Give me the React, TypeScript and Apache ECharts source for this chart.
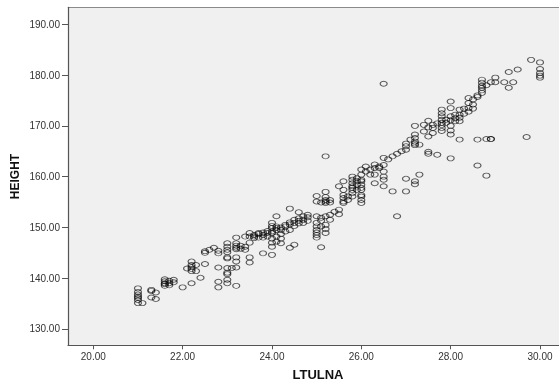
import React, { useEffect, useRef } from "react";
import * as echarts from "echarts";

// LTULNA values (x), each with the HEIGHT values (y) observed at that LTULNA
const ltulnaValues = [
  21.0, 21.1, 21.3, 21.4, 21.6, 21.7, 21.8, 22.0, 22.1, 22.2, 22.3, 22.4, 22.5, 22.6, 22.7, 22.8,
  23.0, 23.1, 23.2, 23.3, 23.4, 23.5, 23.6, 23.7, 23.8, 23.9, 24.0, 24.1, 24.2, 24.3, 24.4, 24.5,
  24.6, 24.7, 24.8, 25.0, 25.1, 25.2, 25.3, 25.4, 25.5, 25.6, 25.7, 25.8, 25.9, 26.0, 26.1, 26.2,
  26.3, 26.4, 26.5, 26.6, 26.7, 26.8, 26.9, 27.0, 27.1, 27.2, 27.3, 27.4, 27.5, 27.6, 27.7, 27.8,
  27.9, 28.0, 28.1, 28.2, 28.3, 28.4, 28.5, 28.6, 28.7, 28.8, 28.9, 29.0, 29.2, 29.3, 29.4, 29.5,
  29.7, 29.8, 30.0,
];

const heightValues: number[][] = [
  [138.0, 137.3, 136.8, 136.4, 136.1, 135.7, 135.1],
  [135.1],
  [137.7, 137.5, 136.2],
  [137.2, 135.9],
  [139.8, 139.4, 139.0, 138.8, 138.5],
  [139.5, 139.0, 138.6],
  [139.7, 139.2],
  [138.2],
  [141.9],
  [143.3, 142.6, 142.2, 141.8, 141.4, 139.0],
  [142.6, 141.4],
  [140.1],
  [145.3, 145.0, 142.8],
  [145.6],
  [146.0],
  [145.4, 144.9, 142.1, 139.3, 138.2],
  [146.9, 146.2, 145.6, 145.1, 144.1, 143.9, 142.0, 141.1, 140.8, 139.7, 139.0],
  [142.0],
  [148.0, 146.9, 146.4, 146.0, 145.7, 144.1, 143.3, 142.1, 138.5],
  [146.4, 145.8],
  [148.2, 146.2, 145.6],
  [148.9, 148.2, 147.0, 144.1, 143.1],
  [148.5, 148.2, 147.9],
  [148.9, 148.7, 148.0],
  [149.0, 148.5, 148.0, 144.9],
  [149.3, 148.9, 148.2],
  [150.9, 150.3, 149.9, 149.2, 148.9, 147.8, 147.0, 146.2, 144.6],
  [152.2, 150.2, 149.9, 149.5, 148.2, 147.2],
  [150.0, 149.5, 148.7, 147.8, 146.9],
  [150.5, 150.2, 149.2],
  [153.7, 151.0, 150.6, 149.5, 146.0],
  [151.5, 150.9, 150.3, 146.6],
  [153.0, 151.8, 151.3, 150.8],
  [152.2, 151.5, 150.9],
  [152.5, 152.0, 151.3],
  [156.2, 155.1, 152.2, 150.9, 150.2, 149.5, 149.0, 148.5, 148.0],
  [154.9, 151.9, 151.3, 150.2, 146.1],
  [164.0, 157.0, 156.0, 155.4, 155.1, 154.8, 152.2, 150.5, 149.7, 148.9],
  [155.4, 154.9, 152.5, 151.5],
  [153.1],
  [158.1, 153.5, 152.6],
  [159.1, 157.4, 156.4, 155.8, 155.1, 154.8],
  [156.1, 155.4],
  [160.0, 159.4, 158.7, 158.1, 157.8, 157.4, 156.8, 156.1],
  [159.7, 159.1, 158.4, 157.4],
  [161.4, 160.4, 159.4, 159.1, 158.4, 157.8, 157.4, 156.4, 156.1, 155.4, 154.8],
  [162.0, 161.0],
  [161.4, 160.4],
  [162.4, 161.7, 160.4, 158.7],
  [162.0, 161.7],
  [178.3, 163.7, 162.3, 161.0, 160.0, 159.4, 158.1],
  [163.4],
  [164.0, 157.1],
  [164.5, 152.2],
  [165.0],
  [166.5, 166.0, 165.3, 159.6, 157.1],
  [167.3],
  [170.0, 168.3, 167.6, 166.9, 166.5, 166.2, 159.1, 158.5],
  [166.3, 160.4],
  [170.2, 168.9],
  [171.0, 169.7, 167.9, 164.9, 164.5],
  [170.2, 169.6, 168.6],
  [170.5, 164.3],
  [173.2, 172.5, 171.9, 171.2, 170.6, 170.2, 169.6, 169.0],
  [171.2, 170.6],
  [174.8, 173.5, 171.9, 171.1, 170.0, 169.1, 168.3, 163.6],
  [172.2, 171.5, 170.9],
  [173.2, 172.2, 171.6, 170.9, 167.3],
  [173.4, 172.4],
  [175.5, 174.5, 173.5, 172.8],
  [175.2, 174.2, 173.4],
  [176.0, 175.7, 167.3, 162.2],
  [179.1, 178.5, 177.9, 177.5, 177.0, 176.5],
  [178.0, 167.4, 160.2],
  [178.6, 167.4, 167.4],
  [179.5, 178.6],
  [178.6],
  [180.6, 177.5],
  [178.6],
  [181.1],
  [167.8],
  [183.0],
  [182.5, 181.2, 180.4, 179.9, 179.5],
];

const xTickValues = [20, 22, 24, 26, 28, 30];
const yTickValues = [130, 140, 150, 160, 170, 180, 190];

const xTitle = "LTULNA";
const yTitle = "HEIGHT";

export default function App() {
  const ref = useRef<HTMLDivElement>(null);

  useEffect(() => {
    if (!ref.current) return;
    const chart = echarts.init(ref.current, undefined, { renderer: "svg" });

    const points: number[][] = [];
    ltulnaValues.forEach((x, i) => {
      heightValues[i].forEach((y) => points.push([x, y]));
    });

    const labelFont = {
      fontFamily: "'Liberation Sans', Arial, sans-serif",
      fontSize: 10,
      color: "#333",
    };

    chart.setOption({
      animation: false,
      grid: {
        left: 68,
        top: 7.3,
        width: 491,
        height: 338,
        show: true,
        backgroundColor: "#f0f0f0",
        borderWidth: 0,
      },
      xAxis: {
        type: "value",
        min: 19.434,
        max: 30.425,
        splitLine: { show: false },
        axisLine: { show: true, onZero: false, lineStyle: { color: "#555", width: 1.2 } },
        axisTick: {
          show: true,
          length: 4,
          customValues: xTickValues,
          lineStyle: { color: "#555" },
        },
        axisLabel: {
          ...labelFont,
          margin: 6,
          customValues: xTickValues,
          formatter: (v: number) => v.toFixed(2),
        },
      },
      yAxis: {
        type: "value",
        min: 126.79,
        max: 193.35,
        splitLine: { show: false },
        axisLine: { show: true, onZero: false, lineStyle: { color: "#555", width: 1.2 } },
        axisTick: {
          show: true,
          length: 6,
          customValues: yTickValues,
          lineStyle: { color: "#555" },
        },
        axisLabel: {
          ...labelFont,
          margin: 8,
          customValues: yTickValues,
          formatter: (v: number) => v.toFixed(2),
        },
      },
      series: [
        {
          type: "scatter",
          data: points,
          symbol: "circle",
          symbolSize: [7, 5],
          itemStyle: {
            color: "rgba(0,0,0,0)",
            borderColor: "rgba(0,0,0,0.8)",
            borderWidth: 1,
          },
        },
      ],
      graphic: [
        {
          type: "line",
          shape: { x1: 68, y1: 7.5, x2: 559, y2: 7.5 },
          style: { stroke: "#8a8a8a", lineWidth: 1 },
          silent: true,
        },
        {
          type: "text",
          x: 318,
          y: 374,
          style: {
            text: xTitle,
            fontFamily: "'Liberation Sans', Arial, sans-serif",
            fontSize: 13,
            fontWeight: "bold",
            fill: "#111",
            align: "center",
            verticalAlign: "middle",
          },
        },
        {
          type: "text",
          x: 14.5,
          y: 176.5,
          rotation: Math.PI / 2,
          style: {
            text: yTitle,
            fontFamily: "'Liberation Sans', Arial, sans-serif",
            fontSize: 12,
            fontWeight: "bold",
            fill: "#111",
            align: "center",
            verticalAlign: "middle",
          },
        },
      ],
    });

    return () => chart.dispose();
  }, []);

  return (
    <div
      ref={ref}
      style={{ position: "fixed", left: 0, top: 0, width: 559, height: 381 }}
    />
  );
}
